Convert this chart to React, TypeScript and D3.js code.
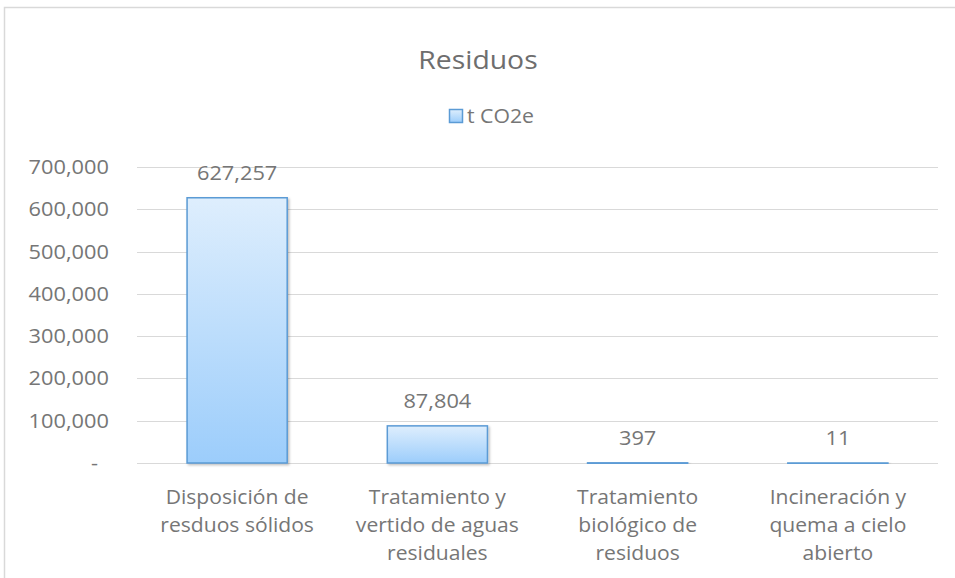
import React from "react";
import * as d3 from "d3";

const categories: string[][] = [
  ["Disposición de", "resduos sólidos"],
  ["Tratamiento y", "vertido de aguas", "residuales"],
  ["Tratamiento", "biológico de", "residuos"],
  ["Incineración y", "quema a cielo", "abierto"],
];
const values: number[] = [627257, 87804, 397, 11];
const yTicks: number[] = [0, 100000, 200000, 300000, 400000, 500000, 600000, 700000];
const title = "Residuos";
const seriesName = "t CO2e";

const W = 955;
const H = 578;
const FONT = "'Open Sans', sans-serif";
const TEXT = "#767676";
const SX = 1.09;

function T({ x, y, anchor, size, fill, sx, children }: { x: number; y: number; anchor?: string; size: number; fill: string; sx?: number; children: React.ReactNode }) {
  return (
    <g transform={`translate(${x},${y}) scale(${sx ?? SX},1)`}>
      <text x={0} y={0} textAnchor={anchor || "start"} fontSize={size} fill={fill}>{children}</text>
    </g>
  );
}

export default function App() {
  const left = 137;
  const right = 938;
  const top = 167;
  const bottom = 463;
  const x = d3.scaleBand<number>().domain(d3.range(values.length)).range([left, right]).paddingInner(0.5).paddingOuter(0.25);
  const y = d3.scaleLinear().domain([0, 700000]).range([bottom, top]);
  const fmt = d3.format(",");

  return (
    <svg width={W} height={H} style={{ position: "absolute", left: 0, top: 0, background: "#fff" }} fontFamily={FONT}>
      <defs>
        <linearGradient id="barGrad" x1="0" y1="0" x2="0" y2="1">
          <stop offset="0" stopColor="#DEEEFD" />
          <stop offset="1" stopColor="#9CCDFB" />
        </linearGradient>
        <filter id="shadow" x="-10%" y="-10%" width="130%" height="130%">
          <feDropShadow dx="1.5" dy="1.5" stdDeviation="1" floodColor="#000" floodOpacity="0.25" />
        </filter>
      </defs>
      <rect x={4.5} y={7.5} width={W + 10} height={H + 10} fill="#fff" stroke="#D9D9D9" strokeWidth={1.5} />
      <T x={478} y={69} anchor="middle" size={26} fill="#6E6E6E">{title}</T>
      <rect x={449.5} y={109.5} width={13} height={13} fill="url(#barGrad)" stroke="#5B9BD5" strokeWidth={1.5} />
      <T x={467} y={123} size={19.5} fill={TEXT}>{seriesName}</T>
      {yTicks.map((t) => (
        <g key={t}>
          <line x1={left} x2={right} y1={Math.round(y(t)) + 0.5} y2={Math.round(y(t)) + 0.5} stroke="#D9D9D9" strokeWidth={1} />
          <T x={t === 0 ? 98 : 109} y={y(t) + 7} anchor="end" size={20} fill={TEXT}>{t === 0 ? "-" : fmt(t)}</T>
        </g>
      ))}
      {values.map((v, i) => {
        const bx = x(i)!;
        const bw = x.bandwidth();
        const by = y(v);
        const bh = bottom - by;
        return (
          <g key={i}>
            <rect x={bx} y={by} width={bw} height={Math.max(bh, 0.5)} fill="url(#barGrad)" stroke="#5B9BD5" strokeWidth={1.5} filter="url(#shadow)" />
            <T x={bx + bw / 2} y={by - 18} anchor="middle" size={20} fill={TEXT}>{fmt(v)}</T>
            {categories[i].map((line, j) => (
              <T key={j} x={bx + bw / 2} y={504 + j * 28} anchor="middle" size={20} sx={1.055} fill={TEXT}>{line}</T>
            ))}
          </g>
        );
      })}
    </svg>
  );
}
